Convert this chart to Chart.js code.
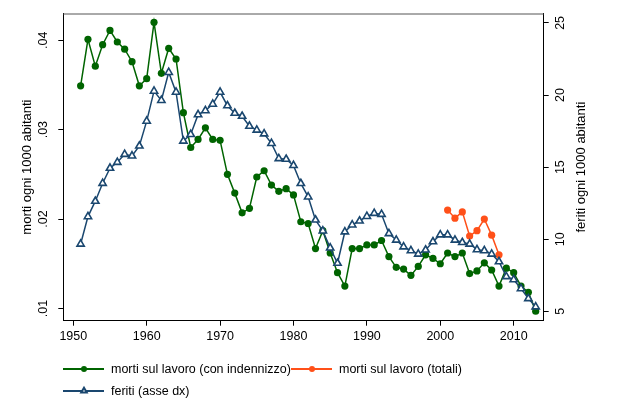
<!DOCTYPE html>
<html>
<head>
<meta charset="utf-8">
<script src="https://cdn.jsdelivr.net/npm/chart.js@4.4.1/dist/chart.umd.min.js"></script>
<style>
    html, body { margin: 0; padding: 0; background: #fff; }
    #wrap { width: 621px; height: 409px; }
</style>
</head>
<body>
<div id="wrap"><canvas id="infortuni" width="621" height="409"></canvas></div>
<script>
// anni e serie
const anni = [1951, 1952, 1953, 1954, 1955, 1956, 1957, 1958, 1959, 1960,
    1961, 1962, 1963, 1964, 1965, 1966, 1967, 1968, 1969, 1970,
    1971, 1972, 1973, 1974, 1975, 1976, 1977, 1978, 1979, 1980,
    1981, 1982, 1983, 1984, 1985, 1986, 1987, 1988, 1989, 1990,
    1991, 1992, 1993, 1994, 1995, 1996, 1997, 1998, 1999, 2000,
    2001, 2002, 2003, 2004, 2005, 2006, 2007, 2008, 2009, 2010,
    2011, 2012, 2013];
const mortiIndennizzo = [0.0349, 0.0401, 0.0371, 0.0395, 0.0411, 0.0398, 0.0390, 0.0376, 0.0349, 0.0357,
    0.0420, 0.0363, 0.0391, 0.0379, 0.0319, 0.0280, 0.0289, 0.0302, 0.0289, 0.0288,
    0.0250, 0.0229, 0.0207, 0.0212, 0.0247, 0.0254, 0.0238, 0.0231, 0.0234, 0.0227,
    0.0197, 0.0195, 0.0167, 0.0187, 0.0162, 0.0140, 0.0125, 0.0167, 0.0167, 0.0171,
    0.0171, 0.0176, 0.0158, 0.0146, 0.0144, 0.0137, 0.0147, 0.0160, 0.0156, 0.0150,
    0.0162, 0.0158, 0.0162, 0.0139, 0.0142, 0.0151, 0.0143, 0.0125, 0.0145, 0.0140,
    0.0125, 0.0118, 0.0097];
const anniTotali = [2001, 2002, 2003, 2004, 2005, 2006, 2007, 2008];
const mortiTotali = [0.0210, 0.0201, 0.0208, 0.0181, 0.0187, 0.0200, 0.0182, 0.0160];
const feriti = [9.67, 11.57, 12.64, 13.88, 14.93, 15.34, 15.89, 15.78, 16.47, 18.19,
    20.27, 19.63, 21.57, 20.2, 16.81, 17.27, 18.64, 18.92, 19.37, 20.2,
    19.26, 18.74, 18.53, 17.84, 17.57, 17.31, 16.65, 15.6, 15.55, 15.12,
    13.87, 12.94, 11.34, 10.58, 9.4, 8.34, 10.52, 11.0, 11.27, 11.59,
    11.8, 11.73, 10.4, 9.95, 9.48, 9.21, 8.98, 9.26, 9.83, 10.31,
    10.31, 9.95, 9.78, 9.67, 9.28, 9.21, 8.98, 8.45, 7.42, 7.2,
    6.58, 5.89, 5.32];

const xTicks = [1950, 1960, 1970, 1980, 1990, 2000, 2010];
const yTicks = [0.01, 0.02, 0.03, 0.04];
const yTickLabels = ['.01', '.02', '.03', '.04'];
const y2Ticks = [5, 10, 15, 20, 25];

const FONT = 'Liberation Sans, Arial, sans-serif';
const VERDE = '#006400';
const ARANCIO = '#ff5019';
const BLU = '#1a476f';

const toPoints = (xs, ys) => xs.map((x, i) => ({ x: x, y: ys[i] }));
const fixTicks = (vals) => (scale) => { scale.ticks = vals.map(v => ({ value: v })); };

// cornice superiore, titoli degli assi e legenda
const extras = {
    id: 'extras',
    afterDraw(chart) {
        const ctx = chart.ctx;
        const a = chart.chartArea;
        ctx.save();
        ctx.strokeStyle = '#555';
        ctx.lineWidth = 1;
        ctx.beginPath();
        ctx.moveTo(a.left, a.top + 0.5);
        ctx.lineTo(a.right, a.top + 0.5);
        ctx.stroke();

        ctx.fillStyle = '#000';
        ctx.font = '13px ' + FONT;
        ctx.textAlign = 'center';
        ctx.textBaseline = 'middle';
        const midY = (a.top + a.bottom) / 2;
        ctx.save();
        ctx.translate(27, midY);
        ctx.rotate(-Math.PI / 2);
        ctx.fillText('morti ogni 1000 abitanti', 0, 0);
        ctx.restore();
        ctx.save();
        ctx.translate(581, midY);
        ctx.rotate(-Math.PI / 2);
        ctx.fillText('feriti ogni 1000 abitanti', 0, 0);
        ctx.restore();

        // legenda
        const items = [
            { ds: 0, x: 63, y: 369, text: 'morti sul lavoro (con indennizzo)' },
            { ds: 1, x: 291, y: 369, text: 'morti sul lavoro (totali)' },
            { ds: 2, x: 63, y: 391, text: 'feriti (asse dx)' }
        ];
        ctx.font = '12.5px ' + FONT;
        ctx.textAlign = 'left';
        items.forEach(it => {
            const d = chart.data.datasets[it.ds];
            ctx.strokeStyle = d.borderColor;
            ctx.lineWidth = 2;
            ctx.beginPath();
            ctx.moveTo(it.x, it.y);
            ctx.lineTo(it.x + 41, it.y);
            ctx.stroke();
            ctx.fillStyle = d.pointBackgroundColor;
            ctx.strokeStyle = d.pointBorderColor;
            Chart.helpers.drawPoint(ctx, {
                pointStyle: d.pointStyle,
                radius: it.ds === 2 ? 3.2 : 3,
                borderWidth: d.pointBorderWidth,
                rotation: 0
            }, it.x + 21, it.y);
            ctx.fillStyle = '#000';
            ctx.fillText(it.text, it.x + 48, it.y + 1);
        });
        ctx.restore();
    }
};

new Chart(document.getElementById('infortuni'), {
    type: 'line',
    data: {
        datasets: [{
            label: 'morti sul lavoro (con indennizzo)',
            data: toPoints(anni, mortiIndennizzo),
            yAxisID: 'y',
            borderColor: VERDE,
            borderWidth: 1.5,
            pointStyle: 'circle',
            pointRadius: 3.6,
            pointBackgroundColor: VERDE,
            pointBorderColor: VERDE,
            pointBorderWidth: 0,
            order: 3
        }, {
            label: 'morti sul lavoro (totali)',
            data: toPoints(anniTotali, mortiTotali),
            yAxisID: 'y',
            borderColor: ARANCIO,
            borderWidth: 1.5,
            pointStyle: 'circle',
            pointRadius: 3.6,
            pointBackgroundColor: ARANCIO,
            pointBorderColor: ARANCIO,
            pointBorderWidth: 0,
            order: 2
        }, {
            label: 'feriti (asse dx)',
            data: toPoints(anni, feriti),
            yAxisID: 'y2',
            borderColor: BLU,
            borderWidth: 1.5,
            pointStyle: 'triangle',
            pointRadius: 4.2,
            pointBackgroundColor: '#ffffff',
            pointBorderColor: BLU,
            pointBorderWidth: 1.6,
            order: 1
        }]
    },
    options: {
        responsive: false,
        animation: false,
        devicePixelRatio: 1,
        layout: { padding: { left: 0, right: 0, top: 10.7, bottom: 58 } },
        plugins: { legend: { display: false }, tooltip: { enabled: false } },
        scales: {
            x: {
                type: 'linear',
                min: 1948.64,
                max: 2014.09,
                afterBuildTicks: fixTicks(xTicks),
                afterFit: (s) => { s.height = 30.3; },
                grid: { display: true, drawOnChartArea: false, drawTicks: true, tickLength: 5, color: '#000' },
                border: { display: true, color: '#000', width: 1 },
                ticks: {
                    color: '#000',
                    font: { family: FONT, size: 12.5 },
                    padding: 3,
                    maxRotation: 0,
                    callback: (v) => String(v)
                }
            },
            y: {
                position: 'left',
                min: 0.00863,
                max: 0.04299,
                afterBuildTicks: fixTicks(yTicks),
                afterFit: (s) => { s.width = 63.3; },
                grid: { display: true, drawOnChartArea: false, drawTicks: true, tickLength: 5, color: '#000' },
                border: { display: true, color: '#000', width: 1 },
                ticks: {
                    color: '#000',
                    font: { family: FONT, size: 12.5 },
                    padding: 6,
                    minRotation: 90,
                    maxRotation: 90,
                    crossAlign: 'center',
                    callback: (v, i) => yTickLabels[i]
                }
            },
            y2: {
                position: 'right',
                min: 4.355,
                max: 25.65,
                afterBuildTicks: fixTicks(y2Ticks),
                afterFit: (s) => { s.width = 77.3; },
                grid: { display: true, drawOnChartArea: false, drawTicks: true, tickLength: 5, color: '#000' },
                border: { display: true, color: '#000', width: 1 },
                ticks: {
                    color: '#000',
                    font: { family: FONT, size: 12.5 },
                    padding: 5,
                    minRotation: 90,
                    maxRotation: 90,
                    crossAlign: 'center',
                    callback: (v) => String(v)
                }
            }
        }
    },
    plugins: [extras]
});
</script>
</body>
</html>
